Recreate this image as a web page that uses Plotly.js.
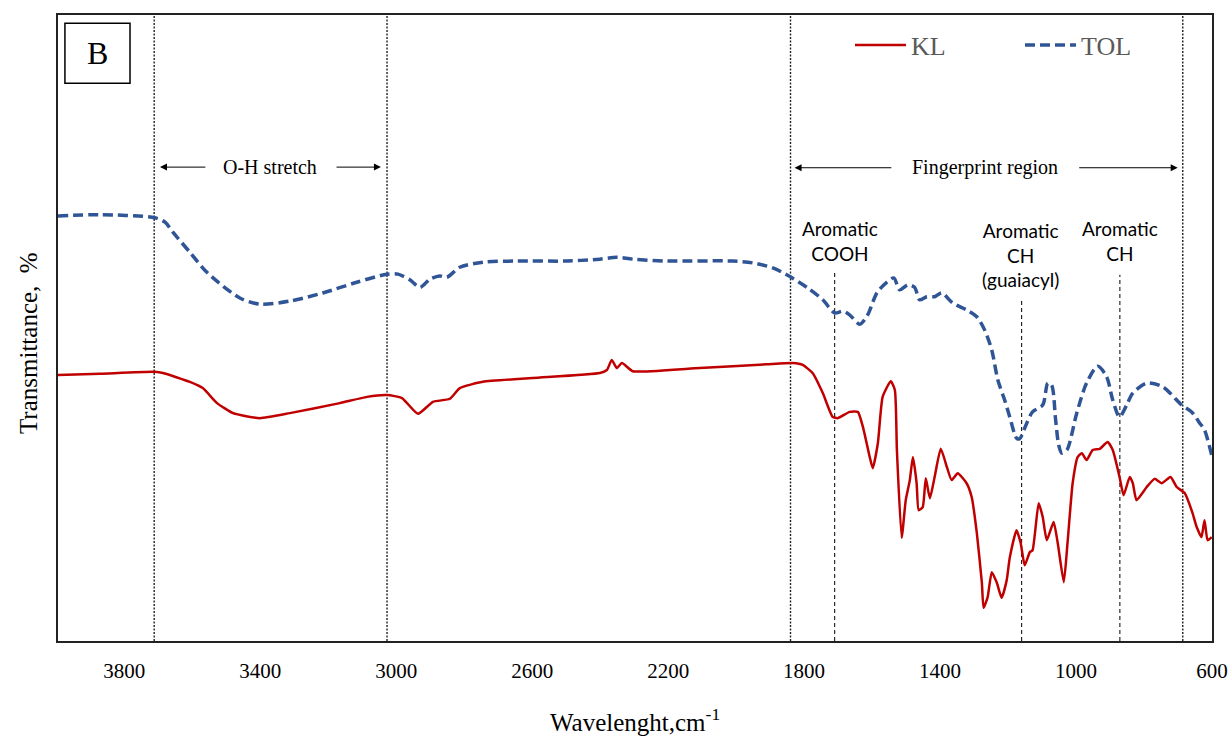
<!DOCTYPE html>
<html>
<head>
<meta charset="utf-8">
<script src="https://cdn.plot.ly/plotly-3.0.1.min.js"></script>
<style>
  html, body { margin: 0; padding: 0; background: #fff; }
  #chart { width: 1232px; height: 739px; }
</style>
</head>
<body>
<div id="chart"></div>
<script>
// ---- Data (wavenumber, cm-1 ; transmittance, arbitrary %) ----
const tolWavenumber = [3995, 3871, 3710, 3680, 3657, 3607, 3557, 3460, 3401, 3313, 3216, 3116, 3027, 2995, 2960, 2930, 2901, 2872, 2851, 2813, 2745, 2645, 2498, 2401, 2351, 2304, 2204, 2010, 1951, 1892, 1851, 1792, 1745, 1710, 1686, 1666, 1636, 1613, 1586, 1557, 1536, 1519, 1495, 1475, 1460, 1439, 1416, 1395, 1363, 1322, 1292, 1269, 1248, 1230, 1210, 1195, 1175, 1166, 1145, 1128, 1098, 1083, 1072, 1060, 1051, 1042, 1027, 998, 969, 936, 910, 892, 872, 851, 833, 792, 745, 689, 660, 636, 622, 601];
const tolTransmittance = [67.9, 68.1, 67.6, 66.9, 65.3, 62.1, 58.9, 54.8, 53.8, 54.3, 55.6, 57.3, 58.6, 58.6, 57.7, 56.5, 57.8, 58.3, 58.1, 59.7, 60.5, 60.7, 60.7, 61.0, 61.3, 61.0, 60.7, 60.7, 60.4, 59.6, 58.5, 56.5, 54.5, 52.4, 52.7, 52.1, 50.6, 52.1, 55.6, 57.3, 58.0, 56.1, 56.9, 56.5, 54.5, 55.0, 55.0, 55.6, 54.0, 52.9, 51.8, 49.7, 46.5, 41.7, 38.5, 35.8, 32.4, 32.3, 34.8, 36.6, 37.7, 41.2, 40.9, 35.3, 31.3, 30.0, 30.5, 36.4, 41.2, 43.9, 42.2, 38.5, 35.8, 37.7, 39.6, 41.2, 40.6, 37.7, 36.6, 34.8, 33.7, 29.7];

const klWavenumber = [3995, 3871, 3710, 3686, 3607, 3569, 3527, 3480, 3401, 3313, 3166, 3086, 3027, 2983, 2936, 2892, 2842, 2813, 2745, 2598, 2401, 2380, 2366, 2351, 2336, 2304, 2107, 1910, 1833, 1804, 1775, 1745, 1716, 1701, 1666, 1642, 1627, 1607, 1598, 1583, 1569, 1545, 1533, 1527, 1513, 1501, 1489, 1480, 1469, 1463, 1451, 1442, 1430, 1416, 1398, 1380, 1366, 1348, 1322, 1307, 1292, 1277, 1272, 1260, 1248, 1233, 1219, 1204, 1195, 1175, 1163, 1151, 1136, 1128, 1110, 1098, 1086, 1066, 1054, 1036, 1025, 1010, 995, 983, 969, 951, 930, 907, 892, 872, 860, 842, 833, 822, 792, 769, 748, 722, 704, 680, 657, 645, 631, 622, 613, 601];
const klTransmittance = [42.5, 42.7, 43.0, 42.8, 41.4, 40.4, 38.0, 36.4, 35.6, 36.4, 38.0, 39.0, 39.3, 38.8, 36.3, 38.2, 38.7, 40.4, 41.4, 42.0, 42.8, 43.3, 44.9, 43.6, 44.4, 43.1, 43.6, 44.2, 44.4, 44.1, 42.8, 39.6, 35.8, 35.6, 36.6, 36.6, 34.2, 29.4, 27.6, 31.6, 39.0, 41.5, 40.1, 30.5, 16.5, 22.5, 25.7, 29.4, 25.2, 20.9, 21.4, 26.0, 22.8, 26.2, 30.7, 27.8, 25.7, 26.8, 25.2, 23.0, 17.3, 9.3, 5.3, 7.0, 11.0, 9.3, 6.9, 9.7, 13.3, 17.7, 15.7, 12.1, 14.2, 14.5, 22.0, 19.8, 16.1, 19.0, 15.7, 9.4, 15.7, 25.2, 29.4, 30.0, 28.9, 30.5, 30.7, 31.8, 30.5, 26.2, 23.3, 26.2, 25.2, 22.5, 24.6, 25.9, 25.2, 26.2, 24.6, 23.6, 20.4, 18.2, 16.6, 19.3, 16.1, 16.6];

const tickValues = [3800, 3400, 3000, 2600, 2200, 1800, 1400, 1000, 600];
const tickLabels = ['3800', '3400', '3000', '2600', '2200', '1800', '1400', '1000', '600'];

const regionLines = [3712, 3027, 1840, 686];          // dotted region boundaries
const bandLines = [                                    // dashed band markers
  {x: 1710, top: 58.8},
  {x: 1160, top: 54.5},
  {x: 871,  top: 58.5}
];
const bandLabels = [
  {x: 1695, y: 63.9, text: 'Aromatic<br>COOH'},
  {x: 1163, y: 61.7, text: 'Aromatic<br>CH<br>(guaiacyl)'},
  {x: 872,  y: 63.9, text: 'Aromatic<br>CH'}
];

// ---- Build traces ----
const serif = 'Liberation Serif';
const traces = [
  {
    x: klWavenumber, y: klTransmittance, name: 'KL', type: 'scatter', mode: 'lines',
    line: {color: '#C00000', width: 2.5, shape: 'spline', smoothing: 0.5},
    hoverinfo: 'skip'
  },
  {
    x: tolWavenumber, y: tolTransmittance, name: 'TOL', type: 'scatter', mode: 'lines',
    line: {color: '#2F5597', width: 3.5, dash: '10px,5px', shape: 'spline', smoothing: 0.8},
    hoverinfo: 'skip'
  }
];

const shapes = [];
regionLines.forEach(x => shapes.push({
  type: 'line', xref: 'x', yref: 'y', x0: x, x1: x, y0: 0, y1: 100,
  line: {color: '#222', width: 1.4, dash: '2px,1.5px'}, layer: 'below'
}));
bandLines.forEach(b => shapes.push({
  type: 'line', xref: 'x', yref: 'y', x0: b.x, x1: b.x, y0: 0, y1: b.top,
  line: {color: '#000', width: 1, dash: '4px,3px'}, layer: 'below'
}));
// "B" panel box
shapes.push({type: 'rect', xref: 'paper', yref: 'paper', x0: 0.006, x1: 0.0624, y0: 0.891, y1: 0.987,
  line: {color: '#000', width: 1.5}, fillcolor: 'rgba(0,0,0,0)'});

const arrowStyle = {xref: 'x', yref: 'y', axref: 'x', ayref: 'y', text: '', showarrow: true,
  arrowhead: 2, arrowsize: 1.4, arrowwidth: 1, arrowcolor: '#000', standoff: 0, startstandoff: 0};

const annotations = [
  Object.assign({x: 3695, y: 75.7, ax: 3557, ay: 75.7}, arrowStyle),
  Object.assign({x: 3045, y: 75.7, ax: 3180, ay: 75.7}, arrowStyle),
  Object.assign({x: 1828, y: 75.6, ax: 1539, ay: 75.6}, arrowStyle),
  Object.assign({x: 701, y: 75.6, ax: 995, ay: 75.6}, arrowStyle),
  {xref: 'x', yref: 'y', x: 3372, y: 75.7, text: 'O-H stretch', showarrow: false,
   xanchor: 'center', yanchor: 'middle', font: {family: serif, size: 20, color: '#000'}},
  {xref: 'x', yref: 'y', x: 1269, y: 75.6, text: 'Fingerprint region', showarrow: false,
   xanchor: 'center', yanchor: 'middle', font: {family: serif, size: 20, color: '#000'}},
  {xref: 'paper', yref: 'paper', x: 0.034, y: 0.939, text: 'B', showarrow: false,
   xanchor: 'center', yanchor: 'middle', font: {family: serif, size: 32, color: '#000'}},
  {xref: 'paper', yref: 'paper', x: 0.5, y: -0.126, text: 'Wavelenght,cm<sup>-1</sup>', showarrow: false,
   xanchor: 'center', yanchor: 'middle', font: {family: serif, size: 25, color: '#000'}},
  {xref: 'paper', yref: 'paper', x: -0.026, y: 0.476, text: 'Transmittance,  %', showarrow: false,
   xanchor: 'center', yanchor: 'middle', textangle: -90, font: {family: serif, size: 25, color: '#000'}}
];
bandLabels.forEach(b => annotations.push({
  xref: 'x', yref: 'y', x: b.x, y: b.y, text: b.text, showarrow: false,
  xanchor: 'center', yanchor: 'middle',
  font: {family: 'Lato', size: 19, color: '#000'}
}));

const layout = {
  width: 1232, height: 739,
  margin: {l: 58, r: 20, t: 15, b: 98},
  paper_bgcolor: '#fff', plot_bgcolor: '#fff',
  font: {family: serif, color: '#000'},
  showlegend: true,
  legend: {
    orientation: 'h', x: 0.6863, y: 0.952, xanchor: 'left', yanchor: 'middle',
    font: {family: serif, size: 26, color: '#595959'},
    bgcolor: 'rgba(0,0,0,0)', itemwidth: 51, entrywidth: 104, tracegroupgap: 0
  },
  xaxis: {
    range: [3995, 600], tickmode: 'array', tickvals: tickValues, ticktext: tickLabels,
    ticks: '', ticklabelstandoff: 10, showgrid: false, zeroline: false,
    showline: true, mirror: true, linecolor: '#222', linewidth: 1.8,
    tickfont: {family: serif, size: 21, color: '#000'}
  },
  yaxis: {
    range: [0, 100], showticklabels: false, ticks: '', showgrid: false, zeroline: false,
    showline: true, mirror: true, linecolor: '#222', linewidth: 1.8
  },
  shapes: shapes,
  annotations: annotations
};

Plotly.newPlot('chart', traces, layout, {staticPlot: true, displayModeBar: false});
</script>
</body>
</html>
